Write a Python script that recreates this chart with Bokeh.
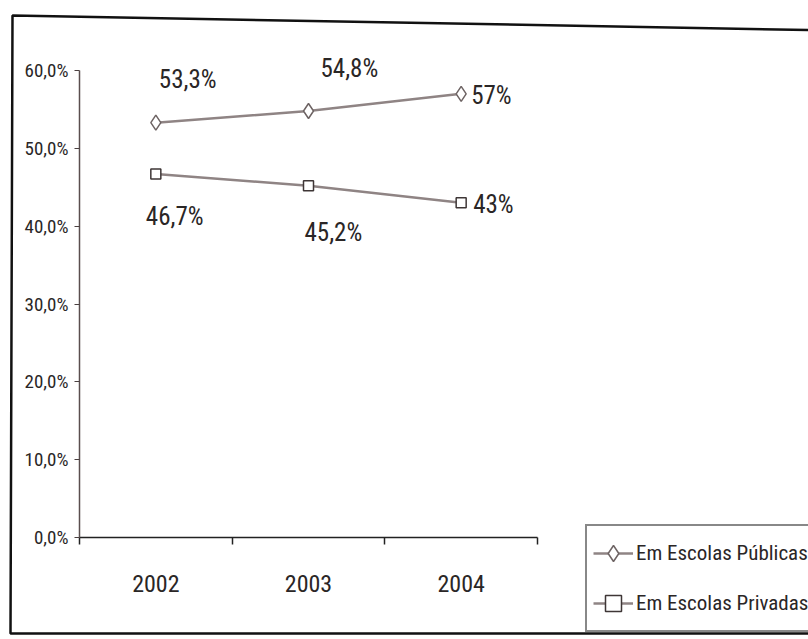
from bokeh.plotting import figure
from bokeh.models import Range1d, FixedTicker, ColumnDataSource, Legend, LegendItem, PolyAnnotation
from bokeh.core.properties import value
from bokeh.embed import file_html
from bokeh.resources import INLINE

# ---- data ----
years = ["2002", "2003", "2004"]
publicas = [53.3, 54.8, 57.0]
privadas = [46.7, 45.2, 43.0]
publicas_labels = ["53,3%", "54,8%", "57%"]
privadas_labels = ["46,7%", "45,2%", "43%"]
y_ticks = [0, 10, 20, 30, 40, 50, 60]
y_tick_labels = ["0,0%", "10,0%", "20,0%", "30,0%", "40,0%", "50,0%", "60,0%"]
series_names = ["Em Escolas Públicas", "Em Escolas Privadas"]

FONT = "Roboto Condensed"
TXT = "#2a2626"
LINE = "#8f8484"

# ---- layout (canvas pixels) ----
W, H = 808, 639
FR_L, FR_T, FR_R, FR_B = 8, 12, 808, 636        # drawing frame = outer box
AX_L, AX_R, AX_T, AX_B = 79, 537, 70, 537       # plot area for data axes
n = len(years)
ymax = 60
pxu_x = (AX_R - AX_L) / n
pxu_y = (AX_B - AX_T) / ymax
x_range = Range1d((FR_L - AX_L) / pxu_x, (FR_R - AX_L) / pxu_x)
y_range = Range1d((AX_B - FR_B) / pxu_y, (AX_B - FR_T) / pxu_y)

xpos = [i + 0.5 for i in range(n)]

p = figure(width=W, height=H, x_range=x_range, y_range=y_range,
           output_backend="svg", toolbar_location=None,
           min_border_left=FR_L, min_border_right=W - FR_R,
           min_border_top=FR_T, min_border_bottom=H - FR_B)
p.background_fill_color = "white"
p.border_fill_color = "white"
p.outline_line_color = None
p.grid.visible = False

# x axis: labels centred in categories, ticks at boundaries
p.xaxis.fixed_location = 0
p.xaxis.bounds = (0, n)
p.xaxis.ticker = FixedTicker(ticks=xpos, minor_ticks=list(range(n + 1)))
p.xaxis.major_label_overrides = {x: y for x, y in zip(xpos, years)}
p.xaxis.major_tick_out = 0
p.xaxis.major_tick_in = 0
p.xaxis.minor_tick_out = 7
p.xaxis.minor_tick_in = 0
p.xaxis.minor_tick_line_color = "#222"
p.xaxis.minor_tick_line_width = 1.5
p.xaxis.axis_line_color = "#222"
p.xaxis.axis_line_width = 1.5
p.xaxis.major_label_standoff = 30
p.xaxis.major_label_text_font = FONT
p.xaxis.major_label_text_font_size = "24px"
p.xaxis.major_label_text_color = TXT

p.yaxis.fixed_location = 0
p.yaxis.bounds = (0, ymax)
p.yaxis.ticker = FixedTicker(ticks=y_ticks, minor_ticks=[])
p.yaxis.major_label_overrides = {t: l for t, l in zip(y_ticks, y_tick_labels)}
p.yaxis.major_tick_out = 5
p.yaxis.major_tick_in = 0
p.yaxis.major_tick_line_color = "#4a4040"
p.yaxis.axis_line_color = "#5a4e4e"
p.yaxis.axis_line_width = 1.5
p.yaxis.major_label_standoff = 6
p.yaxis.major_label_text_font = FONT
p.yaxis.major_label_text_font_size = "19px"
p.yaxis.major_label_text_color = TXT

src_pub = ColumnDataSource(dict(x=xpos, y=publicas, label=publicas_labels,
                                dx=[3, 12, 10], dy=[-43, -42, 2]))
src_priv = ColumnDataSource(dict(x=xpos, y=privadas, label=privadas_labels,
                                 dx=[-10, -4, 12], dy=[42, 47, 2]))

l1 = p.line("x", "y", source=src_pub, line_color=LINE, line_width=2.5)
s1 = p.scatter("x", "y", source=src_pub, marker="diamond", size=15,
               fill_color="white", line_color="#6e6464", line_width=1.5)
l2 = p.line("x", "y", source=src_priv, line_color=LINE, line_width=2.5)
s2 = p.scatter("x", "y", source=src_priv, marker="square", size=10,
               fill_color="white", line_color="#3e3636", line_width=1.5)

for src in (src_pub, src_priv):
    p.text("x", "y", text="label", source=src, x_offset="dx", y_offset="dy",
           text_align="left", text_baseline="middle",
           text_font=value(FONT), text_font_size="25px", text_color=TXT)

# legend box: left 585, bottom 632 (canvas)
legend = Legend(items=[LegendItem(label=series_names[0], renderers=[l1, s1]),
                       LegendItem(label=series_names[1], renderers=[l2, s2])],
                location=(585 - FR_L, FR_B - 632))
legend.label_text_font = FONT
legend.label_text_font_size = "21px"
legend.label_text_color = TXT
legend.glyph_width = 40
legend.glyph_height = 40
legend.label_height = 42
legend.spacing = 8
legend.padding = 6
legend.margin = 0
legend.label_standoff = 3
legend.border_line_color = "#111"
legend.border_line_width = 2
legend.background_fill_color = "white"
legend.background_fill_alpha = 1
p.add_layout(legend)

# outer border (frame-relative screen units, y upwards); right side runs off the page
def fr(cx, cy):
    return cx - FR_L, FR_B - cy

pts = [fr(12, 15), fr(830, 30), fr(830, 633), fr(10, 633)]
frame = PolyAnnotation(xs=[a for a, b in pts], ys=[b for a, b in pts],
                       xs_units="screen", ys_units="screen",
                       fill_alpha=0, line_color="#111", line_alpha=1, line_width=2.5)
p.add_layout(frame)

open("out.html", "w").write(file_html(p, INLINE))
